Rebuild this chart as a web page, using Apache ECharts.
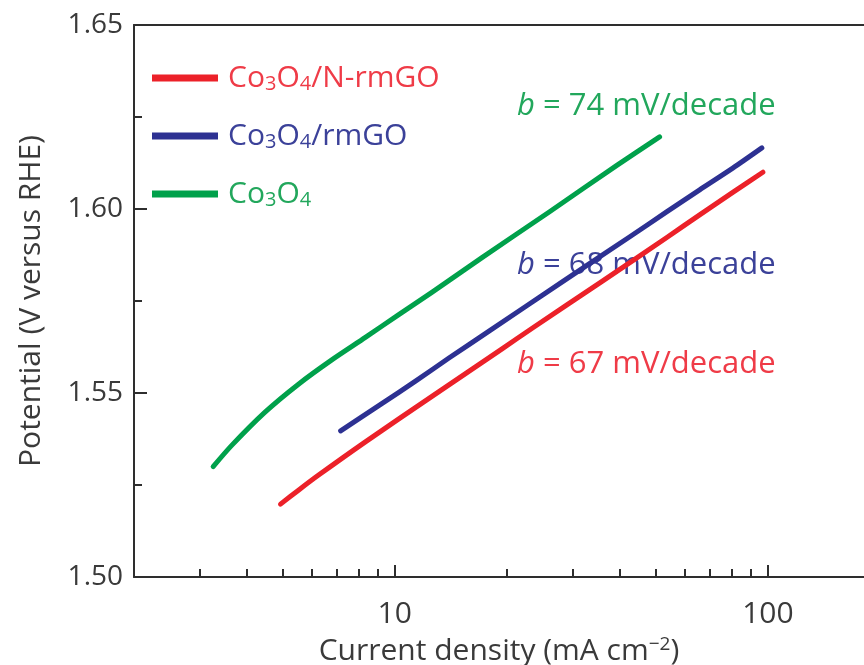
<!DOCTYPE html>
<html>
<head>
<meta charset="utf-8">
<script src="https://cdn.jsdelivr.net/npm/echarts@6/dist/echarts.min.js"></script>
<style>
  html, body { margin: 0; padding: 0; background: #fff; }
  #chart { width: 864px; height: 665px; }
</style>
</head>
<body>
<div id="chart"></div>
<script>
// Tafel plots: potential vs. log current density
const seriesNames = ['Co3O4/N-rmGO', 'Co3O4/rmGO', 'Co3O4'];

const currentNrmGO   = [4.94, 5.52, 6.25, 8.36, 12.58, 19.39, 23.35, 36.02, 53.84, 65.64, 80.53, 96.96];
const potentialNrmGO = [1.5198, 1.5236, 1.5277, 1.5368, 1.5491, 1.5620, 1.5676, 1.5804, 1.5924, 1.5984, 1.6045, 1.6100];

const currentRmGO   = [7.16, 9.23, 11.39, 13.97, 17.89, 28.11, 42.56, 53.52, 65.64, 80.53, 96.35];
const potentialRmGO = [1.5397, 1.5471, 1.5533, 1.5595, 1.5668, 1.5802, 1.5924, 1.5992, 1.6052, 1.6111, 1.6166];

const currentCo3O4   = [3.26, 3.65, 4.49, 5.52, 6.78, 8.34, 10.25, 12.60, 17.13, 25.94, 39.28, 51.26];
const potentialCo3O4 = [1.5300, 1.5357, 1.5448, 1.5524, 1.5590, 1.5651, 1.5713, 1.5774, 1.5868, 1.5992, 1.6118, 1.6196];

const tafelSlopes = ['74', '68', '67'];   // mV/decade: Co3O4, Co3O4/rmGO, Co3O4/N-rmGO
const xMajorTicks = [10, 100];
const xMinorTicks = [3, 4, 5, 6, 7, 8, 9, 20, 30, 40, 50, 60, 70, 80, 90];

const colRed = '#ec2129', colBlue = '#2d3192', colGreen = '#00a14b';
const txtRed = '#ef3b47', txtBlue = '#3b4199', txtGreen = '#22a75c';
const axisCol = '#2e2e2e';
const labelCol = '#3a3a3a';
const FONT = 'Open Sans';

function pairs(xs, ys) { return xs.map((x, i) => [x, ys[i]]); }

function formulaRich(color) {
  return {
    m: { fontFamily: FONT, fontSize: 30, color: color, lineHeight: 32, verticalAlign: 'middle' },
    s: { fontFamily: FONT, fontSize: 20, color: color, lineHeight: 15, verticalAlign: 'bottom' }
  };
}
function formulaText(name) {
  // Co3O4 written with subscripts, followed by the suffix
  const suffix = name.slice(5);
  return '{m|Co}{s|3}{m|O}{s|4}' + (suffix ? '{m|' + suffix + '}' : '');
}

function slopeText(idx, color) {
  return {
    text: '{i|b} = ' + tafelSlopes[idx] + ' mV/decade',
    fill: color,
    font: '31px "Open Sans"',
    rich: { i: { fontStyle: 'italic', fontFamily: FONT, fontSize: 31, fill: color } }
  };
}

const chart = echarts.init(document.getElementById('chart'), null, { renderer: 'canvas' });

const lineStyleBase = { width: 5, cap: 'round', join: 'round' };

const option = {
  backgroundColor: '#fff',
  animation: false,
  grid: { left: 134, right: 0, top: 25, bottom: 88, containLabel: false, outerBoundsMode: 'none' },
  legend: {
    orient: 'vertical',
    left: 147,
    top: 58,
    itemWidth: 66,
    itemHeight: 7,
    itemGap: 27,
    icon: 'rect',
    textStyle: { padding: [0, 0, 0, 5] },
    formatter: formulaText,
    data: [
      { name: seriesNames[0], textStyle: { rich: formulaRich(txtRed) } },
      { name: seriesNames[1], textStyle: { rich: formulaRich(txtBlue) } },
      { name: seriesNames[2], textStyle: { rich: formulaRich(txtGreen) } }
    ]
  },
  xAxis: [
    {
      type: 'log', min: 2, max: 181, position: 'bottom',
      axisLine: { show: true, onZero: false, lineStyle: { color: axisCol, width: 2 } },
      axisTick: { show: true, inside: true, length: 12, customValues: xMajorTicks,
                  lineStyle: { color: axisCol, width: 2 } },
      axisLabel: { customValues: xMajorTicks, fontFamily: FONT, fontSize: 30, color: labelCol, margin: 22 },
      splitLine: { show: false },
      name: '{t|Current density (mA cm}{sup|−2}{t|)}',
      nameLocation: 'middle',
      nameGap: 58,
      nameTextStyle: {
        rich: {
          t: { fontFamily: FONT, fontSize: 30, color: labelCol, lineHeight: 32, verticalAlign: 'middle' },
          sup: { fontFamily: FONT, fontSize: 19, color: labelCol, lineHeight: 15, verticalAlign: 'top' }
        }
      }
    },
    {
      type: 'log', min: 2, max: 181, position: 'bottom',
      axisLine: { show: false, onZero: false },
      axisTick: { show: true, inside: true, length: 8, customValues: xMinorTicks,
                  lineStyle: { color: axisCol, width: 2 } },
      axisLabel: { show: false },
      splitLine: { show: false }
    },
    {
      type: 'log', min: 2, max: 181, position: 'top',
      axisLine: { show: true, onZero: false, lineStyle: { color: axisCol, width: 2 } },
      axisTick: { show: false },
      axisLabel: { show: false },
      splitLine: { show: false }
    }
  ],
  yAxis: {
    type: 'value', min: 1.5, max: 1.65, interval: 0.05,
    axisLine: { show: true, onZero: false, lineStyle: { color: axisCol, width: 2 } },
    axisTick: { show: true, inside: true, length: 13, lineStyle: { color: axisCol, width: 2 } },
    minorTick: { show: true, splitNumber: 2, length: 8, lineStyle: { color: axisCol, width: 2 } },
    axisLabel: { formatter: v => v.toFixed(2), fontFamily: FONT, fontSize: 28, color: labelCol, margin: 11 },
    splitLine: { show: false },
    minorSplitLine: { show: false },
    name: 'Potential (V versus RHE)',
    nameLocation: 'middle',
    nameGap: 88,
    nameTextStyle: { fontFamily: FONT, fontSize: 30, color: labelCol }
  },
  series: [
    { name: seriesNames[0], type: 'line', xAxisIndex: 0, data: pairs(currentNrmGO, potentialNrmGO),
      showSymbol: false, smooth: 0.25, color: colRed, lineStyle: Object.assign({ color: colRed }, lineStyleBase) },
    { name: seriesNames[1], type: 'line', xAxisIndex: 0, data: pairs(currentRmGO, potentialRmGO),
      showSymbol: false, smooth: 0.25, color: colBlue, lineStyle: Object.assign({ color: colBlue }, lineStyleBase) },
    { name: seriesNames[2], type: 'line', xAxisIndex: 0, data: pairs(currentCo3O4, potentialCo3O4),
      showSymbol: false, smooth: 0.25, color: colGreen, lineStyle: Object.assign({ color: colGreen }, lineStyleBase) }
  ],
  graphic: [
    { type: 'text', left: 517, top: 91, style: slopeText(0, txtGreen) },
    { type: 'text', left: 517, top: 250, style: slopeText(1, txtBlue) },
    { type: 'text', left: 517, top: 349, style: slopeText(2, txtRed) }
  ]
};

chart.setOption(option);
</script>
</body>
</html>
